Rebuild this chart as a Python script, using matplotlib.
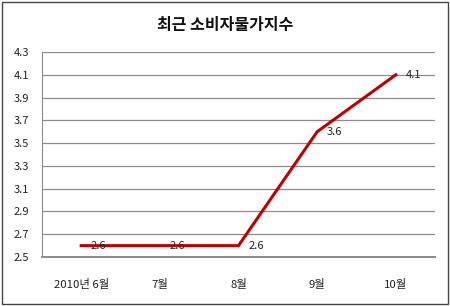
import matplotlib
matplotlib.use("Agg")
import matplotlib.pyplot as plt
from matplotlib.patches import Rectangle

plt.rcParams['font.family'] = ['Noto Sans CJK KR', 'DejaVu Sans']

months = ['2010년 6월', '7월', '8월', '9월', '10월']
cpi = [2.6, 2.6, 2.6, 3.6, 4.1]
yticks = [2.5, 2.7, 2.9, 3.1, 3.3, 3.5, 3.7, 3.9, 4.1, 4.3]

fig = plt.figure(figsize=(4.5, 3.06), dpi=100)
ax = fig.add_axes([0.093, 0.160, 0.874, 0.670])

x = list(range(len(months)))
ax.plot(x, cpi, color='#C00000', linewidth=2.2, solid_joinstyle='miter', zorder=3)
for xi, yi in zip(x, cpi):
    ax.annotate('%.1f' % yi, (xi, yi), xytext=(7, 0), textcoords='offset points',
                ha='left', va='center', fontsize=8, color='#222222', zorder=4)

ax.set_xlim(-0.5, len(months) - 0.5)
ax.set_ylim(2.5, 4.3)
ax.set_yticks(yticks)
ax.set_yticklabels(['%.1f' % v for v in yticks])
ax.set_xticks(x)
ax.set_xticklabels(months)
ax.tick_params(axis='y', length=0, pad=9, labelsize=8, colors='#222222')
ax.tick_params(axis='x', length=0, pad=16, labelsize=8.2, colors='#222222')
ax.yaxis.grid(True, color='#8c8c8c', linewidth=0.9)
ax.set_axisbelow(True)
for side in ['top', 'right']:
    ax.spines[side].set_visible(False)
ax.spines['left'].set_color('#8c8c8c')
ax.spines['bottom'].set_color('#8c8c8c')
ax.spines['bottom'].set_linewidth(1.4)

fig.text(0.5, 0.918, '최근 소비자물가지수', ha='center', va='center', fontsize=11.5,
         fontweight='bold', color='#111111')

fig.patches.append(Rectangle((0.004, 0.008), 0.992, 0.985, transform=fig.transFigure,
                             fill=False, edgecolor='#444444', linewidth=1.0))

fig.savefig('out.png', dpi=100)
